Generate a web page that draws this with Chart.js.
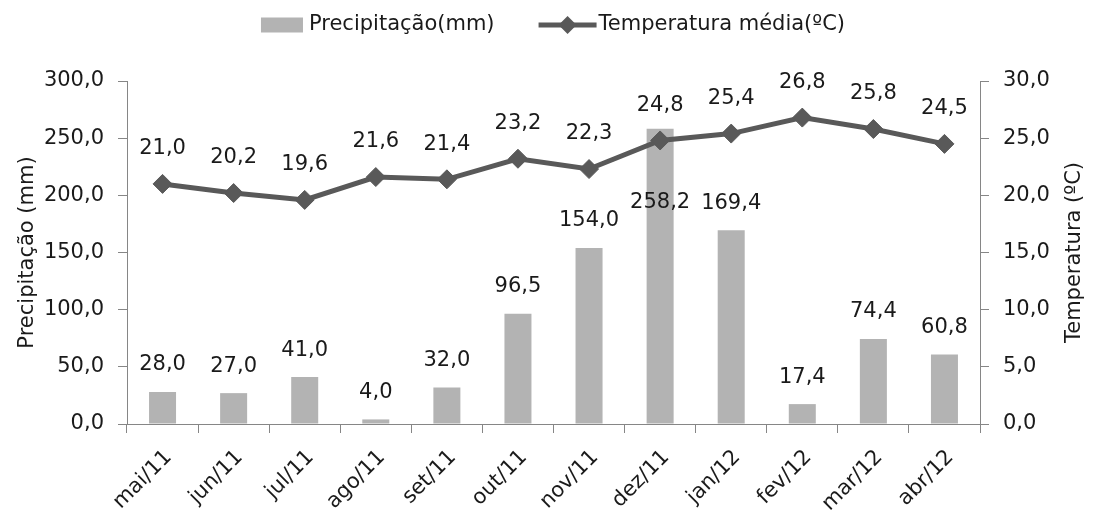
<!DOCTYPE html>
<html><head><meta charset="utf-8">
<script src="https://cdn.jsdelivr.net/npm/chart.js@4.4.1/dist/chart.umd.min.js"></script>
<style>html,body{margin:0;padding:0;background:#fff}#wrap{width:1094px;height:517px}</style>
</head><body><div id="wrap"><canvas id="c" width="1094" height="517"></canvas></div>
<script>
const categories = ['mai/11','jun/11','jul/11','ago/11','set/11','out/11','nov/11','dez/11','jan/12','fev/12','mar/12','abr/12'];
const precipitation = [28.0, 27.0, 41.0, 4.0, 32.0, 96.5, 154.0, 258.2, 169.4, 17.4, 74.4, 60.8];
const temperature = [21.0, 20.2, 19.6, 21.6, 21.4, 23.2, 22.3, 24.8, 25.4, 26.8, 25.8, 24.5];
const precipTicks = [0, 50, 100, 150, 200, 250, 300];
const tempTicks = [0, 5, 10, 15, 20, 25, 30];
const seriesNames = ['Precipitação(mm)', 'Temperatura média(ºC)'];
const axisTitles = ['Precipitação (mm)', 'Temperatura (ºC)'];

const FONT = '"DejaVu Sans", sans-serif';
const FS = 21;
const TXT = '#1a1a1a';
const AXIS = '#868686';
const BAR = '#b3b3b3';
const LINE = '#595959';
const fmt = v => Number(v).toFixed(1).replace('.', ',');

Chart.defaults.font.family = FONT;
Chart.defaults.font.size = FS;
Chart.defaults.color = TXT;

const customPlugin = {
  id: 'customDraw',
  afterDatasetsDraw(chart, args, opts) {
    const ctx = chart.ctx;
    const ys = chart.scales.y;
    ctx.save();
    ctx.font = FS + 'px ' + FONT;
    ctx.fillStyle = TXT;
    ctx.textAlign = 'center';
    ctx.textBaseline = 'middle';
    const bm = chart.getDatasetMeta(0);
    bm.data.forEach((el, i) => {
      let top = el.y;
      if (opts.barAnchor && opts.barAnchor[i] !== undefined) top = ys.getPixelForValue(opts.barAnchor[i]);
      ctx.fillText(fmt(chart.data.datasets[0].data[i]), el.x, top - opts.barGap);
    });
    const lm = chart.getDatasetMeta(1);
    lm.data.forEach((el, i) => {
      ctx.fillText(fmt(chart.data.datasets[1].data[i]), el.x, el.y - opts.lineGap);
    });
    ctx.restore();
  },
  afterDraw(chart) {
    const ctx = chart.ctx;
    const ca = chart.chartArea;
    ctx.save();
    ctx.font = FS + 'px ' + FONT;
    ctx.fillStyle = TXT;
    ctx.textBaseline = 'middle';
    const cy = (ca.top + ca.bottom) / 2;
    [[28, axisTitles[0]], [1075, axisTitles[1]]].forEach(([x, t]) => {
      ctx.save();
      ctx.translate(x, cy);
      ctx.rotate(-Math.PI / 2);
      ctx.textAlign = 'center';
      ctx.fillText(t, 0, 0);
      ctx.restore();
    });
    const w1 = ctx.measureText(seriesNames[0]).width;
    const w2 = ctx.measureText(seriesNames[1]).width;
    const boxW = 42, lineW = 58, g1 = 6, g2 = 44, g3 = 2;
    const total = boxW + g1 + w1 + g2 + lineW + g3 + w2;
    let x = 553 - total / 2;
    const ly = 25;
    ctx.fillStyle = BAR;
    ctx.fillRect(x, ly - 7.5, boxW, 15);
    x += boxW + g1;
    ctx.fillStyle = TXT;
    ctx.textAlign = 'left';
    ctx.fillText(seriesNames[0], x, ly);
    x += w1 + g2;
    ctx.strokeStyle = LINE;
    ctx.lineWidth = 5;
    ctx.beginPath(); ctx.moveTo(x, ly); ctx.lineTo(x + lineW, ly); ctx.stroke();
    const dx = x + lineW / 2;
    ctx.fillStyle = LINE;
    ctx.beginPath();
    ctx.moveTo(dx, ly - 9); ctx.lineTo(dx + 9, ly); ctx.lineTo(dx, ly + 9); ctx.lineTo(dx - 9, ly); ctx.closePath();
    ctx.fill();
    x += lineW + g3;
    ctx.fillStyle = TXT;
    ctx.fillText(seriesNames[1], x, ly);
    ctx.restore();
  }
};

new Chart(document.getElementById('c'), {
  type: 'bar',
  data: {
    labels: categories,
    datasets: [
      { type: 'bar', label: seriesNames[0], data: precipitation, yAxisID: 'y', backgroundColor: BAR,
        barPercentage: 0.38, categoryPercentage: 1, order: 2 },
      { type: 'line', label: seriesNames[1], data: temperature, yAxisID: 'y1', borderColor: LINE,
        backgroundColor: LINE, borderWidth: 5, pointStyle: 'rectRot', pointRadius: 9.5,
        pointHoverRadius: 9.5, pointBackgroundColor: LINE, pointBorderColor: LINE, pointBorderWidth: 1,
        tension: 0, order: 1 }
    ]
  },
  options: {
    responsive: false,
    animation: false,
    devicePixelRatio: 1,
    layout: { padding: { top: 81, left: 0, right: 0, bottom: 0 } },
    plugins: {
      legend: { display: false },
      tooltip: { enabled: false },
      customDraw: { barGap: 27, lineGap: 35, barAnchor: { 7: 170 } }
    },
    scales: {
      x: {
        offset: true,
        grid: { offset: true, drawOnChartArea: false, drawTicks: true, tickLength: 9, color: AXIS, lineWidth: 1 },
        border: { color: AXIS, width: 1 },
        ticks: { maxRotation: 45, minRotation: 45, color: TXT, font: { size: FS }, padding: 12, labelOffset: 6, autoSkip: false },
        afterFit(s) { s.height = 93; }
      },
      y: {
        position: 'left',
        min: precipTicks[0], max: precipTicks[precipTicks.length - 1],
        ticks: { stepSize: precipTicks[1] - precipTicks[0], callback: fmt, padding: 14, color: TXT, font: { size: FS } },
        grid: { drawOnChartArea: false, drawTicks: true, tickLength: 9, color: AXIS },
        border: { color: AXIS, width: 1 },
        afterFit(s) { s.width = 127; }
      },
      y1: {
        position: 'right',
        min: tempTicks[0], max: tempTicks[tempTicks.length - 1],
        ticks: { stepSize: tempTicks[1] - tempTicks[0], callback: fmt, padding: 14, color: TXT, font: { size: FS } },
        grid: { drawOnChartArea: false, drawTicks: true, tickLength: 9, color: AXIS },
        border: { color: AXIS, width: 1 },
        afterFit(s) { s.width = 114; }
      }
    }
  },
  plugins: [customPlugin]
});
</script>
</body></html>
